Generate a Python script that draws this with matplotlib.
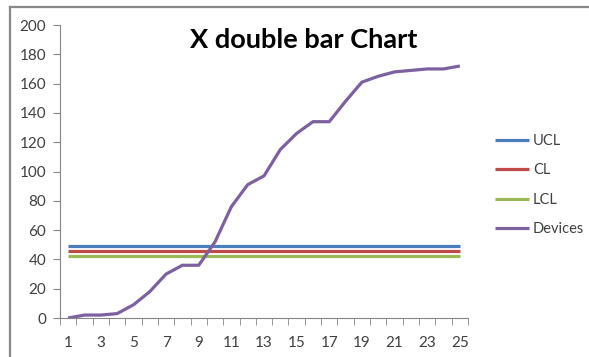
import matplotlib
matplotlib.use('Agg')
from matplotlib import pyplot as plt
from matplotlib.lines import Line2D

# Chart data.
samples = list(range(1, 26))
devices = [0, 2, 2, 3, 9, 18, 30, 36, 36, 52, 76, 91, 97, 115, 126,
           134, 134, 148, 161, 165, 168, 169, 170, 170, 172]
ucl = 49
cl = 46
lcl = 42

seriesNames = ['UCL', 'CL', 'LCL', 'Devices']
seriesColors = ['#4A7EBB', '#BE4B48', '#98B954', '#7D60A0']

if __name__ == '__main__':
  plt.rcParams['font.family'] = ['Lato', 'DejaVu Sans']

  # Set up figure and axes.
  fig = plt.figure(figsize=(5.89, 3.57), dpi=100)
  ax = fig.add_axes([60 / 589, 1 - 318 / 357, 408 / 589, 293 / 357])

  # Outer chart frame (top and left edges only visible).
  fig.add_artist(Line2D([10 / 589, 1], [1 - 7 / 357, 1 - 7 / 357],
                        color='#888888', lw=1.6, transform=fig.transFigure))
  fig.add_artist(Line2D([10 / 589, 10 / 589], [0, 1 - 7 / 357],
                        color='#888888', lw=1.6, transform=fig.transFigure))

  # Plot series.
  values = [[ucl] * len(samples), [cl] * len(samples), [lcl] * len(samples), devices]
  for name, color, vals in zip(seriesNames, seriesColors, values):
    ax.plot(samples, vals, color=color, lw=2.3, label=name, solid_capstyle='butt')

  # Axes styling.
  ax.set_xlim(0.5, 25.5)
  ax.set_ylim(0, 200)
  ax.set_yticks(range(0, 201, 20))
  ax.set_xticks(samples[::2])
  ax.set_xticks([x + 0.5 for x in range(0, 26)], minor=True)
  for side in ['top', 'right']:
    ax.spines[side].set_visible(False)
  for side in ['left', 'bottom']:
    ax.spines[side].set_color('#868686')
  ax.tick_params(axis='y', length=5, color='#868686', labelsize=11,
                 labelcolor='#404040', pad=5)
  ax.tick_params(axis='x', which='major', length=0, labelsize=11,
                 labelcolor='#404040', pad=13)
  ax.tick_params(axis='x', which='minor', length=5, color='#868686')

  # Title and legend.
  fig.text(304 / 589, 1 - 40 / 357, 'X double bar Chart', ha='center', va='center',
           fontsize=19.5, fontweight='bold', color='black')
  ax.legend(loc='upper left', bbox_to_anchor=(482 / 589, 1 - 121 / 357),
            bbox_transform=fig.transFigure, frameon=False, fontsize=10.5,
            handlelength=2.3, labelspacing=1.05, handletextpad=0.3,
            labelcolor='#404040')

  fig.savefig('out.png', dpi=100)
